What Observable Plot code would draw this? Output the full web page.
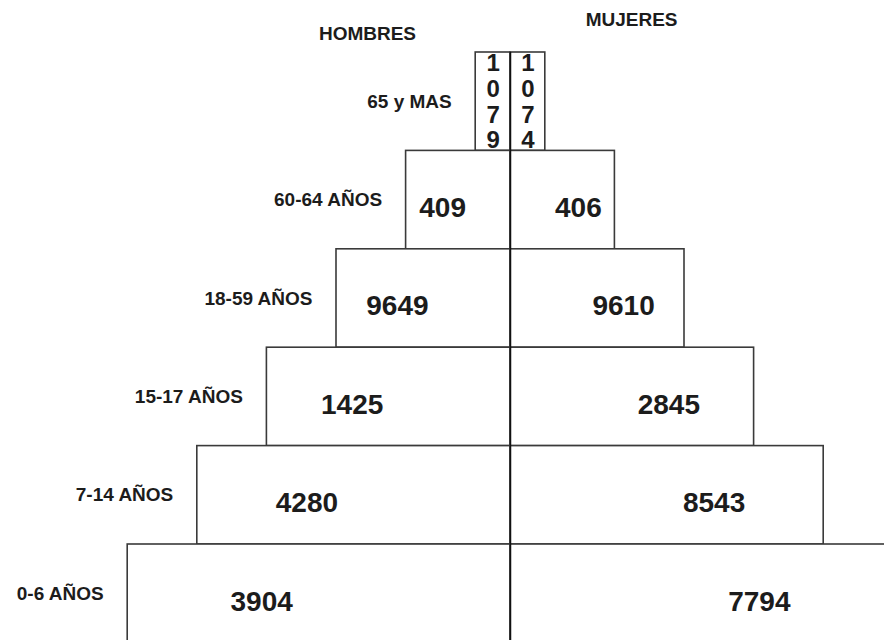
<!DOCTYPE html>
<html>
<head>
<meta charset="utf-8">
<script src="https://cdn.jsdelivr.net/npm/d3@7"></script>
<script src="https://cdn.jsdelivr.net/npm/@observablehq/plot@0.6"></script>
<style>
  html, body { margin: 0; padding: 0; background: #fff; }
  svg { overflow: hidden; display: block; }
</style>
</head>
<body>
<div id="chart"></div>
<script>
// Data
const grupos = ["65 y MAS", "60-64 AÑOS", "18-59 AÑOS", "15-17 AÑOS", "7-14 AÑOS", "0-6 AÑOS"];
const hombres = [1079, 409, 9649, 1425, 4280, 3904];
const mujeres = [1074, 406, 9610, 2845, 8543, 7794];
const encabezados = ["HOMBRES", "MUJERES"];

// Pyramid step (schematic width grows by one step per row)
const filas = grupos.map((g, i) => ({grupo: g, fila: i, ancho: 2 * i + 1, hombres: hombres[i], mujeres: mujeres[i]}));

const unit = 34.8;   // px per step unit
const rowH = 98.4;   // px per row
const W = 884, H = 640;
const cx = 510, top0 = 52;

const barras = filas.flatMap(r => [
  {sexo: "H", x1: -r.ancho, x2: 0, y1: r.fila, y2: r.fila + 1, valor: r.hombres, ancho: r.ancho, sign: -1},
  {sexo: "M", x1: 0, x2: r.ancho, y1: r.fila, y2: r.fila + 1, valor: r.mujeres, ancho: r.ancho, sign: 1}
]);
const fits = d => String(d.valor).length * 0.556 * 28 < d.ancho * unit * 0.9;

const font = "'Liberation Sans', Arial, Helvetica, sans-serif";
const ink = "#1c1c1c";

const chart = Plot.plot({
  width: W,
  height: H,
  margin: 0,
  x: {domain: [-cx / unit, (W - cx) / unit], axis: null},
  y: {domain: [-top0 / rowH, (H - top0) / rowH], reverse: true, axis: null},
  style: {background: "#fff", fontFamily: font, color: ink},
  marks: [
    Plot.rect(barras, {x1: "x1", x2: "x2", y1: "y1", y2: "y2", fill: "#fff", stroke: "#3a3a3a", strokeWidth: 1.6, clip: true}),
    Plot.ruleX([{x: 0, y1: 0, y2: grupos.length}], {x: "x", y1: "y1", y2: "y2", stroke: "#111", strokeWidth: 1.5, clip: true}),
    // values inside bars
    Plot.text(barras.filter(fits), {
      x: d => d.sign * 0.65 * d.ancho, y: d => d.fila !== undefined ? d.fila : d.y1 + 0.5,
      text: d => String(d.valor), dy: 8, fontSize: 28, fontWeight: "bold", fill: ink
    }),
    Plot.text(barras.filter(d => !fits(d)), {
      x: d => d.sign * 0.5 * d.ancho, y: d => d.y1 + 0.5,
      text: d => String(d.valor).split("").join("\n"), lineHeight: 1.07,
      fontSize: 24, fontWeight: "bold", fill: ink
    }),
    // age group labels
    Plot.text(filas, {
      x: d => -d.ancho, y: d => d.fila + 0.5, text: "grupo",
      textAnchor: "end", dx: -24, fontSize: 19, fontWeight: "bold", fill: ink
    }),
    // headers
    Plot.text([encabezados[0]], {x: -4.11, y: -0.19, text: d => d, fontSize: 19, fontWeight: "bold", fill: ink}),
    Plot.text([encabezados[1]], {x: 3.48, y: -0.33, text: d => d, fontSize: 19, fontWeight: "bold", fill: ink})
  ]
});
document.getElementById("chart").appendChild(chart);
</script>
</body>
</html>
